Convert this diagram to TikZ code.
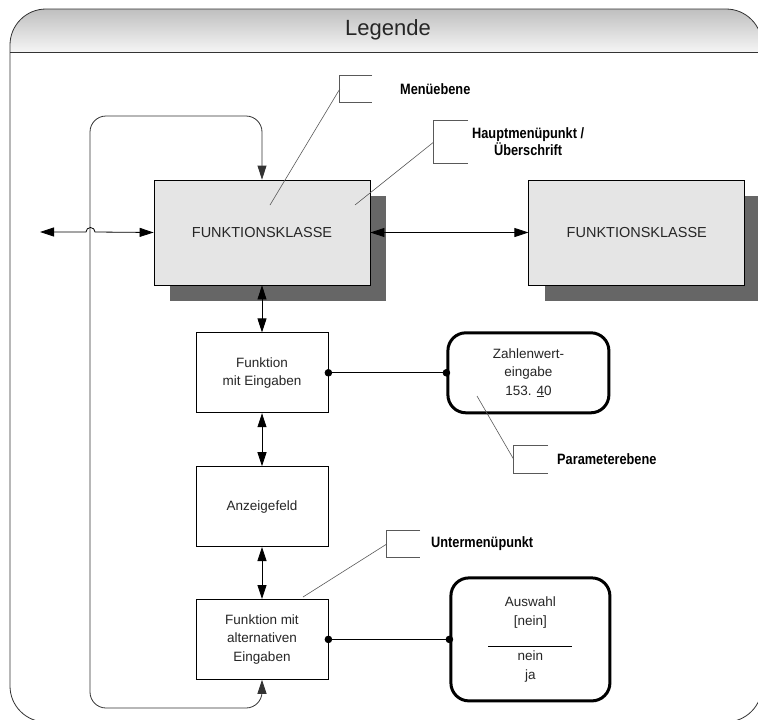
\documentclass[tikz,border=0pt]{standalone}
\usepackage{fontspec}
\setmainfont{Liberation Sans}
\newfontfamily\lblfont{Liberation Sans}[FakeStretch=0.85]
\usetikzlibrary{positioning, arrows.meta, shadows}

\begin{document}
\begin{tikzpicture}[
            x=1pt, y=-1pt,
            >={Triangle[length=14pt, width=9pt]},
            rahmen/.style={black!80, line width=0.8pt},
            klasse/.style={rectangle, draw, line width=0.8pt, fill=black!10, minimum width=216pt,
                    minimum height=105pt, font=\fontsize{14.5}{17}\selectfont, text=black!85,
                    drop shadow={shadow xshift=16pt, shadow yshift=-16pt, fill=black!60, opacity=1}},
            funk/.style={rectangle, draw, line width=0.8pt, fill=white, minimum width=132pt,
                    minimum height=80pt, align=center, font=\fontsize{13.5}{18.5}\selectfont, text=black!85},
            param/.style={rectangle, draw, line width=3pt, rounded corners=18pt, fill=white,
                    align=center, font=\fontsize{13.5}{18.5}\selectfont, text=black!85},
            callbox/.style={inner sep=0pt},
            bracket/.style={black!65, line width=0.8pt},
            calltext/.style={font=\lblfont\bfseries\fontsize{15}{17}\selectfont, align=center, inner sep=0pt},
            leader/.style={black!65, line width=0.6pt},
            arrow/.style={<->, line width=0.8pt},
            rueck/.style={<->, line width=0.8pt, black!80, rounded corners=16pt},
            dotline/.style={{Circle[length=7.5pt]}-{Circle[length=7.5pt]}, shorten <=-3.75pt, shorten >=-3.75pt,
                    line width=0.8pt},
            ]

            \useasboundingbox (0,0) rectangle (758,720);

            % frame with header
            \begin{scope}
                \clip[rounded corners=36pt] (10,9) rectangle (762,722);
                \shade[top color=black!25, bottom color=black!4] (10,9) rectangle (762,52);
            \end{scope}
            \draw[rahmen, rounded corners=36pt] (10,9) rectangle (762,722);
            \draw[rahmen] (10,52) -- (762,52);
            \node[font=\fontsize{22}{26}\selectfont, text=black!85] (titel) at (388,30) {Legende};

            % boxes
            \node[klasse] (kl1) at (262,232.5) {FUNKTIONSKLASSE};
            \node[klasse, right=158pt of kl1] (kl2) {FUNKTIONSKLASSE};
            \node[funk, below=47pt of kl1] (fEin) {Funktion\\mit Eingaben};
            \node[funk, below=53pt of fEin] (anz) {Anzeigefeld};
            \node[funk, below=52pt of anz] (fAlt) {Funktion mit\\alternativen\\Eingaben};
            \node[param, minimum width=161pt, minimum height=80pt, right=118pt of fEin] (zahl)
                {Zahlenwert-\\eingabe\\153. \underline{4}0};
            \node[param, minimum width=159pt, minimum height=123pt, right=121pt of fAlt] (aus)
                {Auswahl\\{[nein]}\\[17pt]nein\\ja};
            \draw[line width=0.6pt] ([xshift=-42pt, yshift=-7pt]aus.center) -- ([xshift=42pt, yshift=-7pt]aus.center);

            % connectors
            \coordinate (lArr) at (40,232);
            \coordinate (lpBL) at (90,708);
            \coordinate (lpTL) at (90,116);
            \draw[rueck] (fAlt.south) |- (lpBL) -- (lpTL) -| (kl1.north);
            \draw[arrow] (kl1.west) -- (95,232) arc[start angle=0, end angle=-180, radius=4.5] -- (lArr);
            \draw[arrow] (kl1.east) -- (kl2.west);
            \draw[arrow] (kl1.south) -- (fEin.north);
            \draw[arrow] (fEin.south) -- (anz.north);
            \draw[arrow] (anz.south) -- (fAlt.north);
            \draw[dotline] (fEin.east) -- (zahl.west);
            \draw[dotline] (fAlt.east) -- (aus.west);

            % callouts
            \node[callbox, minimum width=32pt, minimum height=26pt] (cbMenu) at (356,89) {};
            \node[calltext, anchor=west] (lbMenu) at (400,89) {Menüebene};
            \node[callbox, minimum width=34pt, minimum height=42pt] (cbHaupt) at (451,142) {};
            \node[calltext, anchor=west] (lbHaupt) at (472,142) {Hauptmenüpunkt /\\Überschrift};
            \node[callbox, minimum width=34pt, minimum height=27pt] (cbParam) at (531,459.5) {};
            \node[calltext, anchor=west] (lbParam) at (557,459) {Parameterebene};
            \node[callbox, minimum width=33pt, minimum height=26pt] (cbUnter) at (403.5,544) {};
            \node[calltext, anchor=west] (lbUnter) at (431,544) {Untermenüpunkt};
            \foreach \cb in {cbMenu, cbHaupt, cbParam, cbUnter}
            \draw[bracket] (\cb.north east) -- (\cb.north west) -- (\cb.south west) -- (\cb.south east);

            \coordinate (pMenu) at (270,205);
            \coordinate (pHaupt) at (355,205);
            \coordinate (pParam) at (477,396);
            \coordinate (pUnter) at (303,597);
            \draw[leader] (cbMenu.west) -- (pMenu);
            \draw[leader] (cbHaupt.west) -- (pHaupt);
            \draw[leader] (cbParam.west) -- (pParam);
            \draw[leader] (cbUnter.west) -- (pUnter);

        \end{tikzpicture}
\end{document}
